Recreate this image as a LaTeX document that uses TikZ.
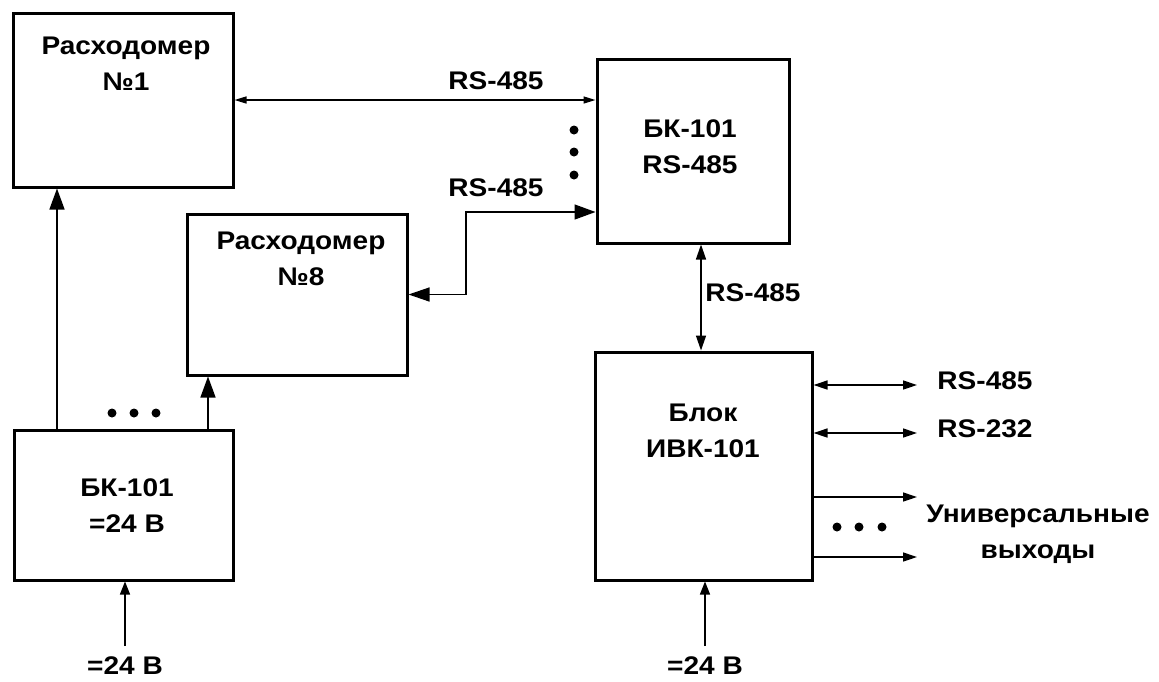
\documentclass[tikz,border=0pt]{standalone}
\usepackage{fontspec}
\newfontfamily\labfont[FakeStretch=1.1]{Liberation Sans}
\usetikzlibrary{arrows.meta}
\begin{document}
\begin{tikzpicture}[x=1pt,y=-1pt,
  font=\labfont\bfseries\fontsize{25.5}{36}\selectfont,
  box/.style={draw,line width=3pt,rectangle,inner sep=0pt},
  txt/.style={align=center,inner sep=0pt},
  conn/.style={line width=1.4pt},
  sarr/.style={conn,{Triangle[length=12pt,width=7pt]}-{Triangle[length=12pt,width=7pt]}},
  rarr/.style={conn,{Triangle[length=14pt,width=9pt]}-{Triangle[length=14pt,width=9pt]}},
  rone/.style={conn,-{Triangle[length=14pt,width=9pt]}},
  barr/.style={conn,-{Triangle[length=21pt,width=15pt]}},
  bdbl/.style={conn,{Triangle[length=21pt,width=14pt]}-{Triangle[length=21pt,width=15pt]}},
  varr/.style={conn,{Triangle[length=15pt,width=10pt]}-{Triangle[length=15pt,width=10pt]}},
  iarr/.style={conn,-{Triangle[length=13pt,width=10pt]}},
  dot/.style={fill=black}
]
\fill[white] (0,0) rectangle (1159,681);
\useasboundingbox (0,0) rectangle (1159,681);

% boxes
\node[box,minimum width=220pt,minimum height=174pt] (r1) at (123,100) {};
\node[box,minimum width=220pt,minimum height=161pt] (r8) at (297,294.5) {};
\node[box,minimum width=192pt,minimum height=184pt] (bkr) at (693,151) {};
\node[box,minimum width=219pt,minimum height=150pt] (bkp) at (123.5,505) {};
\node[box,minimum width=217pt,minimum height=228pt] (ivk) at (703.5,466) {};

% box texts
\node[txt] (t1) at (126,64) {Расходомер\\№1};
\node[txt] (t8) at (301,259) {Расходомер\\№8};
\node[txt] (tbkr) at (690,147) {БК-101\\RS-485};
\node[txt] (tbkp) at (127,506) {БК-101\\=24 В};
\node[txt] (tivk) at (703,431) {Блок\\ИВК-101};

% labels
\node[txt] (l1) at (496,81) {RS-485};
\node[txt] (l2) at (496,188) {RS-485};
\node[txt] (l3) at (753,293) {RS-485};
\node[txt] (l4) at (985,381) {RS-485};
\node[txt] (l5) at (985,429) {RS-232};
\node[txt] (l6) at (1038,534) {Универсальные\\выходы};
\node[txt] (l7) at (125,666) {=24 В};
\node[txt] (l8) at (705,666) {=24 В};

% coordinates
\coordinate (m) at (466,212);
\coordinate (vx) at (701,0);
\coordinate (c1) at (57,0);
\coordinate (c2) at (208,0);
\coordinate (in1) at (125,646);
\coordinate (in2) at (705,646);
\coordinate (o1) at (917,385);
\coordinate (o2) at (917,433);
\coordinate (o3) at (917,497);
\coordinate (o4) at (917,557);

% connectors
\draw[sarr] (r1.east) -- (bkr.west |- r1.east);
\draw[bdbl] (r8.east) -| (m) -- (bkr.west |- m);
\draw[varr] (bkr.south -| vx) -- (ivk.north -| vx);
\draw[barr] (bkp.north -| c1) -- (r1.south -| c1);
\draw[barr] (bkp.north -| c2) -- (r8.south -| c2);
\draw[iarr] (in1) -- (bkp.south -| in1);
\draw[iarr] (in2) -- (ivk.south -| in2);
\draw[rarr] (ivk.east |- o1) -- (o1);
\draw[rarr] (ivk.east |- o2) -- (o2);
\draw[rone] (ivk.east |- o3) -- (o3);
\draw[rone] (ivk.east |- o4) -- (o4);

% dots
\foreach \x in {112,134,156} \fill[dot] (\x,413) circle (4.5);
\foreach \x in {837,859,882} \fill[dot] (\x,527) circle (4.5);
\foreach \y in {130,152,175} \fill[dot] (574,\y) circle (4.5);
\end{tikzpicture}
\end{document}
